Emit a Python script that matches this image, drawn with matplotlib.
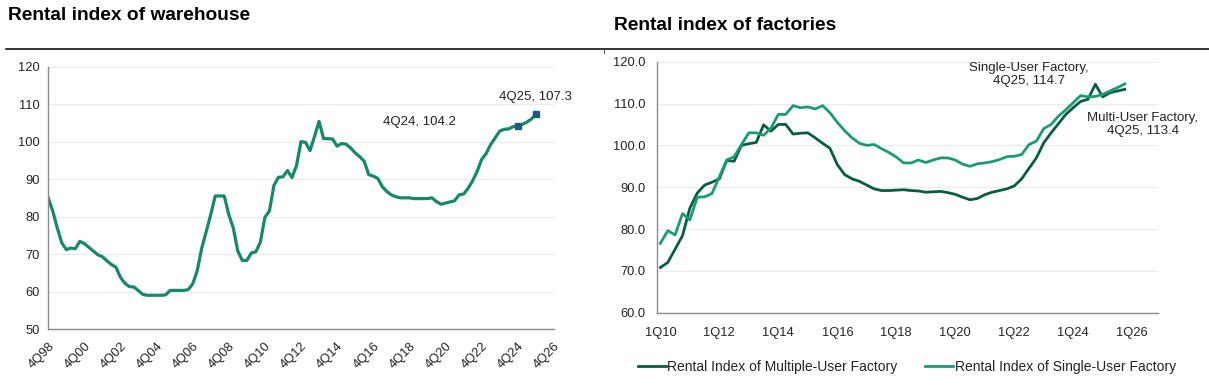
import matplotlib.pyplot as plt
from matplotlib.lines import Line2D

plt.rcParams['font.family'] = ['Liberation Sans', 'DejaVu Sans']

# Rental index of warehouse, quarterly from 4Q98 to 4Q25
warehouse = [
  85.0, 81.5, 77.0, 73.0, 71.2, 71.6, 71.4, 73.4, 72.8, 71.8,
  70.8, 69.8, 69.3, 68.2, 67.2, 66.5, 63.8, 62.2, 61.3, 61.2,
  60.2, 59.2, 59.0, 59.0, 59.0, 59.0, 59.1, 60.3, 60.3, 60.3,
  60.3, 60.5, 62.0, 65.5, 71.5, 76.0, 80.5, 85.5, 85.5, 85.5,
  80.5, 77.0, 70.8, 68.3, 68.3, 70.3, 70.6, 73.2, 79.8, 81.5,
  88.3, 90.5, 90.6, 92.3, 90.4, 93.6, 100.0, 99.8, 97.6, 101.4,
  105.4, 100.8, 100.8, 100.7, 98.8, 99.5, 99.3, 98.3, 97.0, 96.0,
  94.8, 91.2, 90.8, 90.2, 88.0, 86.7, 85.8, 85.3, 85.0, 85.0,
  85.0, 84.8, 84.8, 84.8, 84.8, 85.0, 84.0, 83.3, 83.6, 83.9,
  84.2, 85.8, 86.0, 87.5, 89.5, 92.0, 95.2, 96.8, 99.2, 101.0,
  102.8, 103.3, 103.4, 104.0, 104.2, 104.6, 105.2, 106.0, 107.3,
]
warehouse_ticks = ['4Q98', '4Q00', '4Q02', '4Q04', '4Q06', '4Q08', '4Q10', '4Q12',
                   '4Q14', '4Q16', '4Q18', '4Q20', '4Q22', '4Q24', '4Q26']
warehouse_marks = [104, 108]  # 4Q24 and 4Q25

# Rental index of factories, quarterly from 1Q10 to 4Q25
multi_user = [
  70.8, 72.0, 75.2, 78.4, 85.0, 88.6, 90.5, 91.2, 92.0, 96.4,
  96.2, 100.0, 100.4, 100.7, 104.9, 103.4, 105.0, 105.0, 102.7, 102.9,
  103.0, 101.8, 100.5, 99.3, 95.4, 93.0, 92.0, 91.4, 90.5, 89.6,
  89.2, 89.2, 89.3, 89.4, 89.2, 89.1, 88.8, 88.9, 89.0, 88.7,
  88.3, 87.6, 87.0, 87.3, 88.2, 88.8, 89.2, 89.6, 90.3, 92.0,
  94.5, 97.0, 100.6, 103.0, 105.2, 107.4, 109.0, 110.5, 111.0, 114.6,
  111.6, 112.6, 113.0, 113.4,
]
single_user = [
  76.6, 79.6, 78.6, 83.7, 82.2, 87.6, 87.7, 88.5, 92.5, 96.5,
  97.3, 100.2, 103.0, 103.0, 102.4, 104.1, 107.4, 107.4, 109.5, 109.0,
  109.2, 108.7, 109.5, 107.8, 105.5, 103.5, 101.8, 100.5, 100.0, 100.2,
  99.2, 98.3, 97.2, 95.8, 95.8, 96.5, 95.9, 96.5, 97.0, 97.0,
  96.5, 95.5, 95.0, 95.6, 95.8, 96.1, 96.6, 97.3, 97.4, 97.8,
  100.2, 101.0, 104.0, 105.0, 107.0, 108.5, 110.2, 111.9, 111.6, 111.7,
  112.2, 113.0, 113.8, 114.7,
]
factory_ticks = ['1Q10', '1Q12', '1Q14', '1Q16', '1Q18', '1Q20', '1Q22', '1Q24', '1Q26']

green = '#15896A'
dark_green = '#0A5C40'
light_green = '#1A9B73'
text_col = '#222222'

fig = plt.figure(figsize=(12.09, 3.92), dpi=100)

# titles and header rule
fig.text(8 / 1209, 1 - 15 / 392, 'Rental index of warehouse', fontsize=13.8,
         fontweight='bold', ha='left', va='center')
fig.text(614 / 1209, 1 - 25 / 392, 'Rental index of factories', fontsize=13.8,
         fontweight='bold', ha='left', va='center')
fig.add_artist(Line2D([6 / 1209, 1], [1 - 48.5 / 392] * 2, color='black', lw=1.1))
fig.add_artist(Line2D([604 / 1209] * 2, [1 - 48.5 / 392, 1 - 53 / 392],
                      color='#555555', lw=0.8))


def style(ax):
  for s in ['top', 'right']:
    ax.spines[s].set_visible(False)
  for s in ['left', 'bottom']:
    ax.spines[s].set_color('#8a8a8a')
    ax.spines[s].set_linewidth(1.0)
  ax.grid(axis='y', color='#ebebeb', lw=0.8)
  ax.set_axisbelow(True)
  ax.tick_params(length=0, labelsize=9.3, colors=text_col)


# left: warehouse
ax1 = fig.add_axes([48.2 / 1209, 1 - 329 / 392, 505.6 / 1209, 262.3 / 392])
style(ax1)
ax1.plot(range(len(warehouse)), warehouse, color=green, lw=2.3)
ax1.plot(warehouse_marks, [warehouse[i] for i in warehouse_marks], ls='none',
         marker='s', ms=5, color='#1E5C82')
ax1.set_xlim(0, 112)
ax1.set_ylim(50, 120)
ax1.set_yticks(range(50, 121, 10))
ax1.set_xticks(range(0, 113, 8))
ax1.set_xticklabels(warehouse_ticks, rotation=45, ha='right', va='top',
                    rotation_mode='anchor')
ax1.tick_params(axis='y', pad=6)
ax1.tick_params(axis='x', pad=8)
ax1.annotate('4Q24, 104.2', xy=(104, warehouse[104]), xytext=(-98, 4),
             textcoords='offset pixels', ha='center', va='center', fontsize=9.5,
             color=text_col)
ax1.annotate('4Q25, 107.3', xy=(108, warehouse[108]), xytext=(0, 17),
             textcoords='offset pixels', ha='center', va='center', fontsize=9.5,
             color=text_col)

# right: factories
ax2 = fig.add_axes([656.7 / 1209, 1 - 312.7 / 392, 501.3 / 1209, 251 / 392])
style(ax2)
ax2.plot(range(len(multi_user)), multi_user, color=dark_green, lw=2.0,
         label='Rental Index of Multiple-User Factory')
ax2.plot(range(len(single_user)), single_user, color=light_green, lw=2.0,
         label='Rental Index of Single-User Factory')
ax2.set_xlim(-0.5, 67.5)
ax2.set_ylim(60, 120)
ax2.set_yticks(range(60, 121, 10))
ax2.set_yticklabels([f'{v:.1f}' for v in range(60, 121, 10)])
ax2.set_xticks(range(0, 65, 8))
ax2.set_xticklabels(factory_ticks)
ax2.tick_params(axis='y', pad=8)
ax2.tick_params(axis='x', pad=10)
ax2.annotate('Single-User Factory,\n4Q25, 114.7', xy=(63, single_user[-1]),
             xytext=(-96, 9), textcoords='offset pixels', ha='center',
             va='center', fontsize=9.5, color=text_col, linespacing=1.1)
ax2.annotate('Multi-User Factory,\n4Q25, 113.4', xy=(63, multi_user[-1]),
             xytext=(18, -35), textcoords='offset pixels', ha='center',
             va='center', fontsize=9.5, color=text_col, linespacing=1.1)

fig.legend(*ax2.get_legend_handles_labels(), loc='center',
           bbox_to_anchor=(907 / 1209, 1 - 367 / 392), ncol=2, frameon=False,
           fontsize=10, handlelength=2.0, handletextpad=0.1, columnspacing=2.0,
           labelcolor=text_col)

fig.savefig('out.png', dpi=100)
